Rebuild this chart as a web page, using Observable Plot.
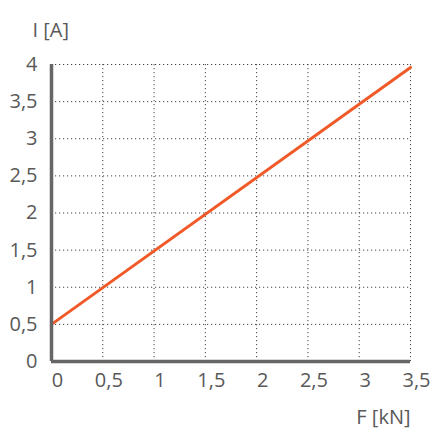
<!DOCTYPE html>
<html>
<head>
<meta charset="utf-8">
<script src="https://cdn.jsdelivr.net/npm/d3@7"></script>
<script src="https://cdn.jsdelivr.net/npm/@observablehq/plot@0.6"></script>
<style>
  html, body { margin: 0; padding: 0; background: #fff; }
  #chart svg { display: block; }
</style>
</head>
<body>
<div id="chart"></div>
<script>
const forceKN = [0, 3.5];
const currentA = [0.5, 3.96];
const xTicks = [0, 0.5, 1, 1.5, 2, 2.5, 3, 3.5];
const yTicks = [0, 0.5, 1, 1.5, 2, 2.5, 3, 3.5, 4];
const xLabel = "F [kN]";
const yLabel = "I [A]";

const data = forceKN.map((f, i) => ({f, i: currentA[i]}));
const fmt = d => String(d).replace(".", ",");

const chart = Plot.plot({
  width: 434,
  height: 436,
  marginLeft: 51,
  marginRight: 24,
  marginTop: 64,
  marginBottom: 75,
  style: {fontFamily: "'Open Sans', sans-serif", fontSize: "20px", color: "#595959", background: "#fff"},
  x: {domain: [0, 3.5], ticks: xTicks, tickFormat: fmt, label: null},
  y: {domain: [0, 4], ticks: yTicks, tickFormat: fmt, label: null},
  marks: [
    Plot.gridX(xTicks.filter(d => d > 0), {stroke: "#444", strokeOpacity: 1, strokeDasharray: "1.2,2.8", strokeWidth: 1}),
    Plot.gridY(yTicks.filter(d => d > 0), {stroke: "#444", strokeOpacity: 1, strokeDasharray: "1.2,2.8", strokeWidth: 1}),
    Plot.axisX({ticks: xTicks, tickFormat: fmt, tickSize: 0, tickPadding: 11, dx: 6, fill: "#595959", fontSize: 20, label: null}),
    Plot.axisY({ticks: yTicks, tickFormat: fmt, tickSize: 0, tickPadding: 14, fill: "#595959", fontSize: 20, label: null}),
    Plot.line(data, {x: "f", y: "i", stroke: "#f05a28", strokeWidth: 3}),
    Plot.ruleX([0], {stroke: "#666", strokeWidth: 3.5}),
    Plot.ruleY([0], {stroke: "#666", strokeWidth: 3.5}),
    Plot.text([yLabel], {frameAnchor: "top-left", text: d => d, dx: -19, dy: -42, textAnchor: "start", fill: "#595959", fontSize: 20}),
    Plot.text([xLabel], {frameAnchor: "bottom-right", text: d => d, dx: 0, dy: 62, textAnchor: "end", fill: "#595959", fontSize: 20})
  ]
});
document.getElementById("chart").appendChild(chart);
</script>
</body>
</html>
